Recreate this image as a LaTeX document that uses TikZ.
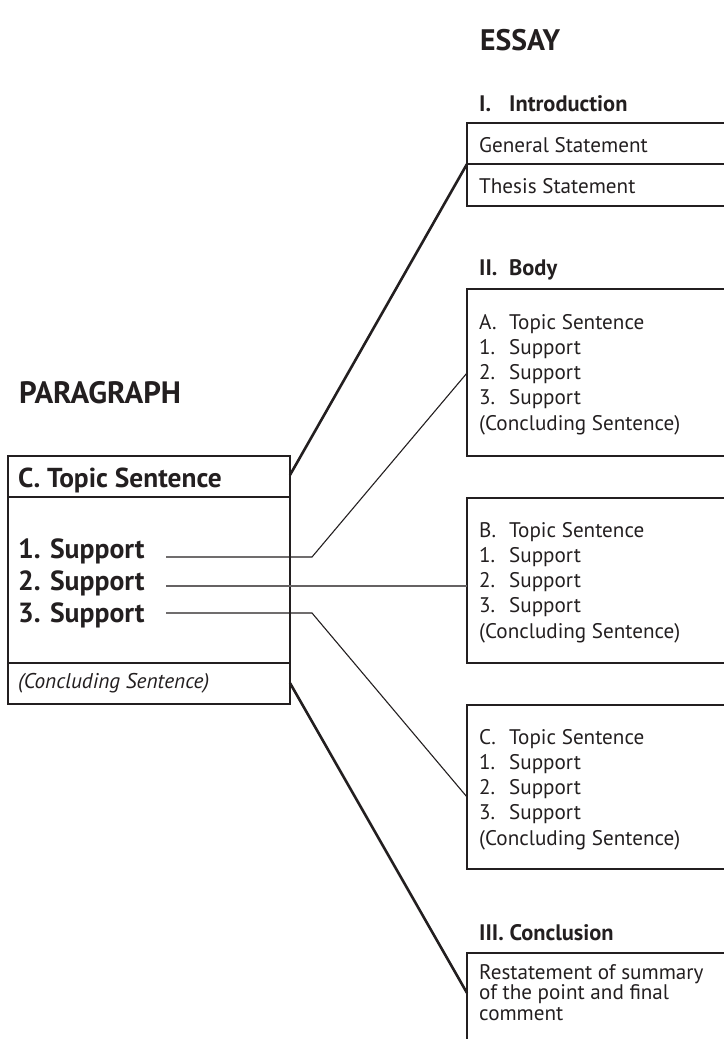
\documentclass[tikz,border=0pt]{standalone}
\usepackage{fontspec}
\setmainfont{PT Sans}
\definecolor{ink}{HTML}{231F20}
\newcommand{\tabto}[1]{\makebox[30bp][l]{#1}}

\begin{document}
\begin{tikzpicture}[x=1bp,y=-1bp,
  txt/.style={anchor=base west,inner sep=0,text=ink,font=\fontsize{21.2}{25}\selectfont},
  lbl/.style={txt,font=\bfseries\fontsize{22.5}{25}\selectfont},
  title/.style={txt,font=\bfseries\fontsize{29.8}{34}\selectfont},
  parabig/.style={txt,font=\bfseries\fontsize{27.8}{30}\selectfont},
  boxline/.style={draw=ink,line width=2.4bp,line join=miter},
  divider/.style={draw=ink,line width=1.2bp},
  bigtie/.style={draw=ink,line width=2.6bp},
  smalltie/.style={draw=ink,line width=1.1bp}]
\useasboundingbox (0,0) rectangle (724,1039);
% titles
\node[title] (essay) at (480,50) {ESSAY};
\node[title,font=\bfseries\fontsize{31}{34}\selectfont] (paragraph) at (19,403) {PARAGRAPH};
% paragraph box
\draw[boxline] (8,456) rectangle (290,704);
\draw[boxline] (8,497) -- (290,497);
\draw[boxline] (8,663) -- (290,663);
\node[txt,font=\bfseries\fontsize{27.5}{30}\selectfont] (ptopic) at (18,487) {C. Topic Sentence};
\node[parabig] (psup1) at (18,558) {1. Support};
\node[parabig] (psup2) at (18,590) {2. Support};
\node[parabig] (psup3) at (18,622) {3. Support};
\node[txt,font=\itshape\fontsize{21.4}{25}\selectfont] (pconc) at (18,688) {(Concluding Sentence)};
% introduction
\node[lbl] (introlbl) at (479,111) {\tabto{I.}Introduction};
\draw[boxline] (724,123) -| (467,206) -- (724,206);
\draw[divider] (467,164) -- (724,164);
\node[txt] (general) at (479,152) {General Statement};
\node[txt] (thesis) at (479,193) {Thesis Statement};
% body
\node[lbl] (bodylbl) at (479,275) {\tabto{II.}Body};
\foreach \n/\t/\b/\y in {A/289/456/329,B/498/663/537,C/705/869/744}{
  \draw[boxline] (724,\t) -| (467,\b) -- (724,\b);
  \node[txt] (top\n) at (479,\y) {\tabto{\n.}Topic Sentence};
  \node[txt] (sup\n1) at (479,\y+25) {\tabto{1.}Support};
  \node[txt] (sup\n2) at (479,\y+50) {\tabto{2.}Support};
  \node[txt] (sup\n3) at (479,\y+75) {\tabto{3.}Support};
  \node[txt] (conc\n) at (479,\y+101) {(Concluding Sentence)};
}
% conclusion
\node[lbl] (concllbl) at (479,940) {III. Conclusion};
\draw[boxline] (724,953) -| (467,1040);
\node[txt] (restate1) at (479,979) {Restatement of summary};
\node[txt] (restate2) at (479,999.5) {of the point and final};
\node[txt] (restate3) at (479,1020) {comment};
% connector ends
\coordinate (ptopright) at (290,475);
\coordinate (pbotright) at (290,683);
\coordinate (introin) at (467,164);
\coordinate (conclin) at (467,993);
\coordinate (s1) at (166,557);
\coordinate (s2) at (166,586);
\coordinate (s3) at (166,613);
\coordinate (ain) at (467,373);
\coordinate (bin) at (467,586);
\coordinate (cin) at (467,797);
% ties
\draw[bigtie] (ptopright) -- (introin);
\draw[bigtie] (pbotright) -- (conclin);
\draw[smalltie] (s1) -- ++(146,0) -- (ain);
\draw[smalltie,draw=ink!70,line width=1.4bp] (s2) -- (bin);
\draw[smalltie] (s3) -- ++(146,0) -- (cin);
\end{tikzpicture}
\end{document}
